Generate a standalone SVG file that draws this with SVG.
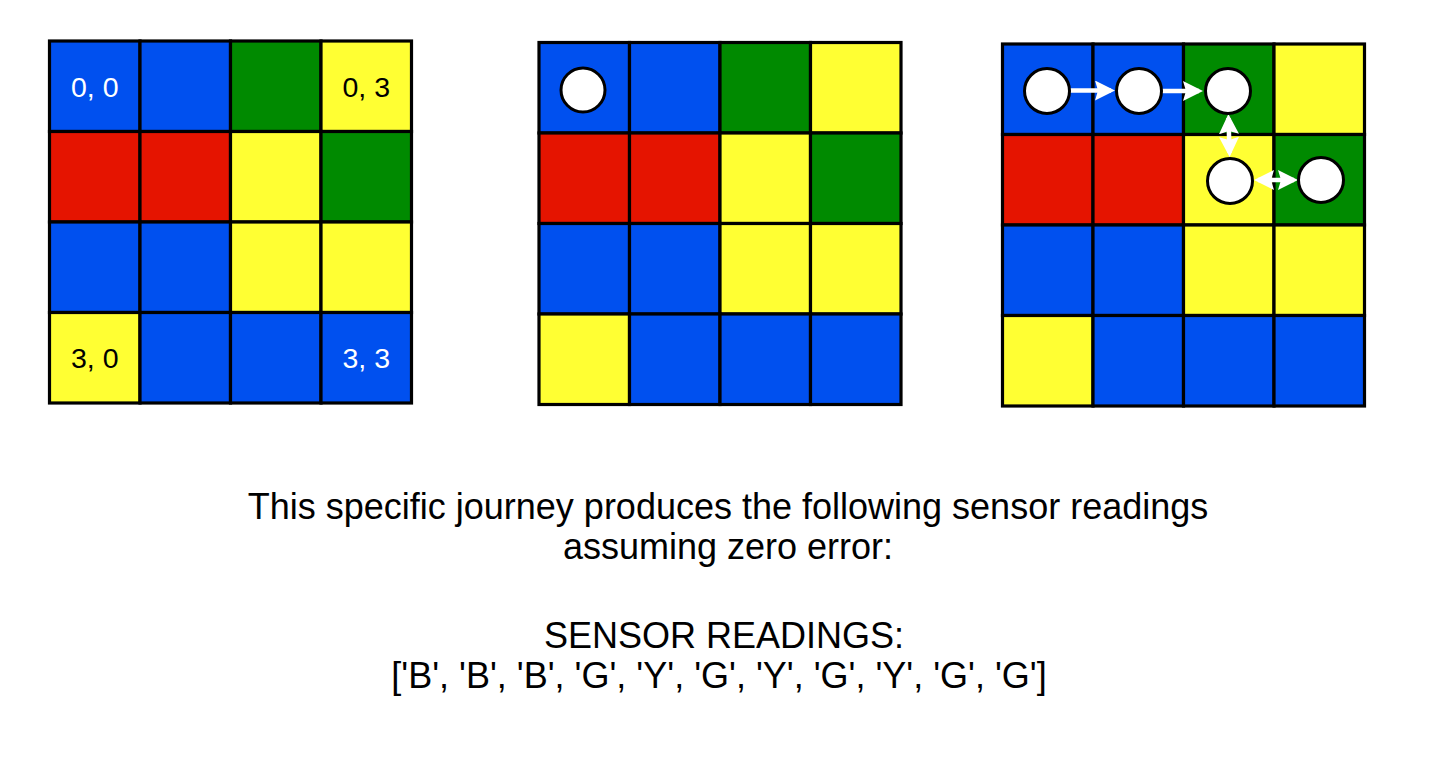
<svg xmlns="http://www.w3.org/2000/svg" width="1452" height="766" viewBox="0 0 1452 766">
<style>
.c{stroke:#000;stroke-width:3.2}
.b{fill:#0050ef}
.r{fill:#e51400}
.g{fill:#008a00}
.y{fill:#ffff33}
.lbl{font-family:"Liberation Sans",Arial,sans-serif;font-size:28.5px;text-anchor:middle}
.w{fill:#fff}
.k{fill:#000}
.dot{fill:#fff;stroke:#000;stroke-width:3}
.arr{stroke:#fff;stroke-width:4.5;fill:none}
.txt{font-family:"Liberation Sans",Arial,sans-serif;font-size:36px;text-anchor:middle;fill:#000}
</style>
<defs>
<marker id="ah" viewBox="0 0 20 20" refX="16" refY="10" markerWidth="20" markerHeight="20" markerUnits="userSpaceOnUse" orient="auto-start-reverse">
<path d="M0,0 L20,10 L0,20 L3,10 z" fill="#fff"/>
</marker>
</defs>
<rect width="1452" height="766" fill="#fff"/>

<g id="grid1" transform="translate(49.5,41)">
<rect class="c b" x="0" y="0" width="90.5" height="90.5"/>
<rect class="c b" x="90.5" y="0" width="90.5" height="90.5"/>
<rect class="c g" x="181" y="0" width="90.5" height="90.5"/>
<rect class="c y" x="271.5" y="0" width="90.5" height="90.5"/>
<rect class="c r" x="0" y="90.5" width="90.5" height="90.5"/>
<rect class="c r" x="90.5" y="90.5" width="90.5" height="90.5"/>
<rect class="c y" x="181" y="90.5" width="90.5" height="90.5"/>
<rect class="c g" x="271.5" y="90.5" width="90.5" height="90.5"/>
<rect class="c b" x="0" y="181" width="90.5" height="90.5"/>
<rect class="c b" x="90.5" y="181" width="90.5" height="90.5"/>
<rect class="c y" x="181" y="181" width="90.5" height="90.5"/>
<rect class="c y" x="271.5" y="181" width="90.5" height="90.5"/>
<rect class="c y" x="0" y="271.5" width="90.5" height="90.5"/>
<rect class="c b" x="90.5" y="271.5" width="90.5" height="90.5"/>
<rect class="c b" x="181" y="271.5" width="90.5" height="90.5"/>
<rect class="c b" x="271.5" y="271.5" width="90.5" height="90.5"/>
<text class="lbl w" x="45.25" y="55.5">0, 0</text>
<text class="lbl k" x="316.75" y="55.5">0, 3</text>
<text class="lbl k" x="45.25" y="327">3, 0</text>
<text class="lbl w" x="316.75" y="327">3, 3</text>
</g>

<g id="grid2" transform="translate(539,42.5)">
<rect class="c b" x="0" y="0" width="90.5" height="90.5"/>
<rect class="c b" x="90.5" y="0" width="90.5" height="90.5"/>
<rect class="c g" x="181" y="0" width="90.5" height="90.5"/>
<rect class="c y" x="271.5" y="0" width="90.5" height="90.5"/>
<rect class="c r" x="0" y="90.5" width="90.5" height="90.5"/>
<rect class="c r" x="90.5" y="90.5" width="90.5" height="90.5"/>
<rect class="c y" x="181" y="90.5" width="90.5" height="90.5"/>
<rect class="c g" x="271.5" y="90.5" width="90.5" height="90.5"/>
<rect class="c b" x="0" y="181" width="90.5" height="90.5"/>
<rect class="c b" x="90.5" y="181" width="90.5" height="90.5"/>
<rect class="c y" x="181" y="181" width="90.5" height="90.5"/>
<rect class="c y" x="271.5" y="181" width="90.5" height="90.5"/>
<rect class="c y" x="0" y="271.5" width="90.5" height="90.5"/>
<rect class="c b" x="90.5" y="271.5" width="90.5" height="90.5"/>
<rect class="c b" x="181" y="271.5" width="90.5" height="90.5"/>
<rect class="c b" x="271.5" y="271.5" width="90.5" height="90.5"/>
</g>
<g id="robot-start"><circle class="dot" cx="583" cy="90" r="22"/></g>

<g id="grid3" transform="translate(1002.5,44)">
<rect class="c b" x="0" y="0" width="90.5" height="90.5"/>
<rect class="c b" x="90.5" y="0" width="90.5" height="90.5"/>
<rect class="c g" x="181" y="0" width="90.5" height="90.5"/>
<rect class="c y" x="271.5" y="0" width="90.5" height="90.5"/>
<rect class="c r" x="0" y="90.5" width="90.5" height="90.5"/>
<rect class="c r" x="90.5" y="90.5" width="90.5" height="90.5"/>
<rect class="c y" x="181" y="90.5" width="90.5" height="90.5"/>
<rect class="c g" x="271.5" y="90.5" width="90.5" height="90.5"/>
<rect class="c b" x="0" y="181" width="90.5" height="90.5"/>
<rect class="c b" x="90.5" y="181" width="90.5" height="90.5"/>
<rect class="c y" x="181" y="181" width="90.5" height="90.5"/>
<rect class="c y" x="271.5" y="181" width="90.5" height="90.5"/>
<rect class="c y" x="0" y="271.5" width="90.5" height="90.5"/>
<rect class="c b" x="90.5" y="271.5" width="90.5" height="90.5"/>
<rect class="c b" x="181" y="271.5" width="90.5" height="90.5"/>
<rect class="c b" x="271.5" y="271.5" width="90.5" height="90.5"/>
</g>

<g id="connectors">
<line class="arr" x1="1070" y1="90.5" x2="1111" y2="90.5" marker-end="url(#ah)"/>
<line class="arr" x1="1162" y1="91" x2="1199" y2="91" marker-end="url(#ah)"/>
<line class="arr" x1="1228.5" y1="118" x2="1229.5" y2="153" marker-start="url(#ah)" marker-end="url(#ah)"/>
<line class="arr" x1="1258" y1="180" x2="1294" y2="180" marker-start="url(#ah)" marker-end="url(#ah)"/>
</g>

<g id="p1"><circle class="dot" cx="1047" cy="91" r="22.5"/></g>
<g id="p2"><circle class="dot" cx="1139" cy="91" r="22.5"/></g>
<g id="p3"><circle class="dot" cx="1228" cy="91" r="22.5"/></g>
<g id="p4"><circle class="dot" cx="1230" cy="181" r="22.5"/></g>
<g id="p5"><circle class="dot" cx="1321" cy="180" r="22.5"/></g>

<g id="caption">
<text class="txt" x="728" y="519">This specific journey produces the following sensor readings</text>
<text class="txt" x="728" y="559">assuming zero error:</text>
<text class="txt" x="724" y="648">SENSOR READINGS:</text>
<text class="txt" x="719" y="688">['B', 'B', 'B', 'G', 'Y', 'G', 'Y', 'G', 'Y', 'G', 'G']</text>
</g>
</svg>
